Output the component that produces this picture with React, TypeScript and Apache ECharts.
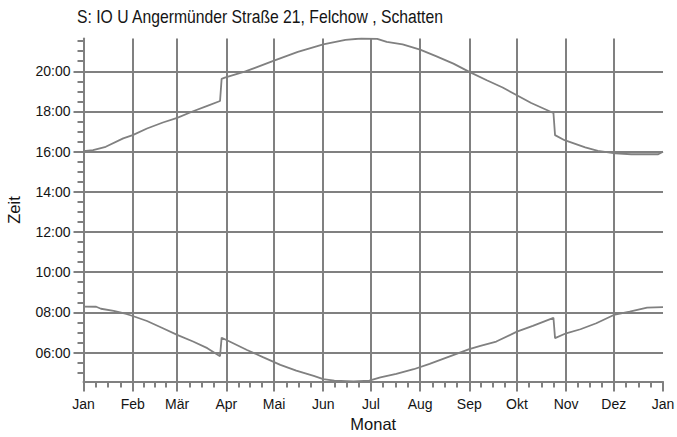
import React, { useEffect, useRef } from "react";
import * as echarts from "echarts";

const titleText = "S: IO U Angermünder Straße 21, Felchow , Schatten";
const xAxisName = "Monat";
const yAxisName = "Zeit";
const monthLabels = ["Jan", "Feb", "Mär", "Apr", "Mai", "Jun", "Jul", "Aug", "Sep", "Okt", "Nov", "Dez", "Jan"];
const monthStarts = [0, 31, 59, 90, 120, 151, 181, 212, 243, 273, 304, 334, 365];
const hourTicks = [6, 8, 10, 12, 14, 16, 18, 20];

// Sunset (upper curve): day of year, time in hours
const sunsetDays = [0, 6, 14, 25, 31, 40, 50, 59, 69, 78, 86, 87, 89, 102, 120, 135, 151, 165, 175, 185, 191, 201, 212, 222, 233, 243, 254, 264, 275, 282, 296, 297, 303, 316, 324, 335, 345, 362, 365];
const sunsetHours = [16.02, 16.07, 16.24, 16.66, 16.82, 17.15, 17.45, 17.68, 18.01, 18.28, 18.52, 19.62, 19.68, 19.99, 20.53, 20.96, 21.34, 21.56, 21.63, 21.61, 21.46, 21.34, 21.08, 20.75, 20.38, 19.97, 19.55, 19.19, 18.72, 18.42, 17.92, 16.82, 16.57, 16.21, 16.04, 15.91, 15.87, 15.87, 16.0];

// Sunrise (lower curve)
const sunriseDays = [0, 8, 11, 19, 27, 31, 40, 50, 59, 69, 78, 84, 86, 87, 92, 103, 113, 124, 134, 145, 151, 158, 170, 180, 187, 197, 208, 218, 243, 250, 260, 273, 283, 296, 297, 304, 313, 323, 334, 344, 355, 365];
const sunriseHours = [8.29, 8.28, 8.18, 8.07, 7.92, 7.82, 7.57, 7.21, 6.88, 6.55, 6.22, 5.92, 5.82, 6.74, 6.55, 6.13, 5.77, 5.39, 5.1, 4.84, 4.68, 4.6, 4.57, 4.6, 4.76, 4.94, 5.17, 5.44, 6.17, 6.33, 6.55, 7.04, 7.33, 7.73, 6.72, 6.96, 7.16, 7.46, 7.87, 8.04, 8.24, 8.26];

const Y_MIN = 4.56;
const Y_MAX = 21.63;

const GRAY = "#808080";
const TEXT = "#141414";
const FONT = "Liberation Sans, Arial, sans-serif";

export default function App() {
  const ref = useRef<HTMLDivElement>(null);

  useEffect(() => {
    if (!ref.current) return;
    const chart = echarts.init(ref.current, null, { renderer: "svg" });

    const xMinor: number[] = [];
    for (let i = 0; i < monthStarts.length - 1; i++) {
      const len = monthStarts[i + 1] - monthStarts[i];
      for (let k = 1; k < 4; k++) xMinor.push(monthStarts[i] + (len * k) / 4);
    }
    const yMinor: number[] = [];
    for (let h = 5; h <= 21.5; h += 0.5) {
      if (!hourTicks.includes(h)) yMinor.push(h);
    }

    const sunset = sunsetDays.map((d, i) => [d, sunsetHours[i]]);
    const sunrise = sunriseDays.map((d, i) => [d, sunriseHours[i]]);

    chart.setOption({
      animation: false,
      backgroundColor: "#ffffff",
      grid: {
        left: 83.5,
        right: 14,
        top: 38.5,
        bottom: 55.5,
        containLabel: false,
        outerBoundsMode: "none",
      },
      graphic: [
        {
          type: "text",
          x: 77,
          y: 17,
          scaleX: 0.85,
          style: {
            text: titleText,
            fontSize: 18.5,
            fontFamily: FONT,
            fill: TEXT,
            align: "left",
            verticalAlign: "middle",
          },
        },
      ],
      xAxis: [
        {
          type: "value",
          position: "bottom",
          min: 0,
          max: 365,
          name: xAxisName,
          nameLocation: "middle",
          nameGap: 30,
          nameTextStyle: { fontSize: 16.5, fontFamily: FONT, color: TEXT },
          axisLine: { show: true, onZero: false, lineStyle: { color: GRAY, width: 2 } },
          axisTick: {
            show: true,
            length: 10,
            customValues: monthStarts,
            lineStyle: { color: GRAY, width: 2 },
          },
          axisLabel: {
            show: true,
            customValues: monthStarts,
            margin: 15,
            fontSize: 14,
            fontFamily: FONT,
            color: TEXT,
            formatter: (v: number) => {
              const idx = monthStarts.indexOf(Math.round(v));
              return idx >= 0 ? monthLabels[idx] : "";
            },
          },
          splitLine: {
            show: true,
            showMinLine: true,
            showMaxLine: false,
            lineStyle: { color: GRAY, width: 2 },
          },
        },
        {
          type: "value",
          position: "bottom",
          min: 0,
          max: 365,
          axisLine: { show: false, onZero: false },
          axisTick: {
            show: true,
            length: 6,
            customValues: xMinor,
            lineStyle: { color: GRAY, width: 2 },
          },
          axisLabel: { show: false },
          splitLine: { show: false },
        },
      ],
      yAxis: [
        {
          type: "value",
          position: "left",
          min: Y_MIN,
          max: Y_MAX,
          name: yAxisName,
          nameLocation: "middle",
          nameGap: 61,
          nameRotate: 90,
          nameTextStyle: { fontSize: 16.5, fontFamily: FONT, color: TEXT },
          axisLine: { show: true, onZero: false, lineStyle: { color: GRAY, width: 2 } },
          axisTick: {
            show: true,
            length: 10,
            customValues: hourTicks,
            lineStyle: { color: GRAY, width: 2 },
          },
          axisLabel: {
            show: true,
            customValues: hourTicks,
            margin: 13,
            fontSize: 14,
            fontFamily: FONT,
            color: TEXT,
            formatter: (v: number) => String(Math.round(v)).padStart(2, "0") + ":00",
          },
          splitLine: {
            show: true,
            lineStyle: { color: GRAY, width: 2 },
          },
        },
        {
          type: "value",
          position: "left",
          min: Y_MIN,
          max: Y_MAX,
          axisLine: { show: false, onZero: false },
          axisTick: {
            show: true,
            length: 6,
            customValues: yMinor,
            lineStyle: { color: GRAY, width: 2 },
          },
          axisLabel: { show: false },
          splitLine: { show: false },
        },
      ],
      series: [
        {
          type: "line",
          name: "Sonnenuntergang",
          xAxisIndex: 0,
          yAxisIndex: 0,
          data: sunset,
          showSymbol: false,
          symbol: "none",
          lineStyle: { color: GRAY, width: 1.8 },
          silent: true,
        },
        {
          type: "line",
          name: "Sonnenaufgang",
          xAxisIndex: 0,
          yAxisIndex: 0,
          data: sunrise,
          showSymbol: false,
          symbol: "none",
          lineStyle: { color: GRAY, width: 1.8 },
          silent: true,
        },
      ],
    });

    return () => chart.dispose();
  }, []);

  return (
    <div
      ref={ref}
      style={{ position: "fixed", left: 0, top: 0, width: 677, height: 437, background: "#fff" }}
    />
  );
}
